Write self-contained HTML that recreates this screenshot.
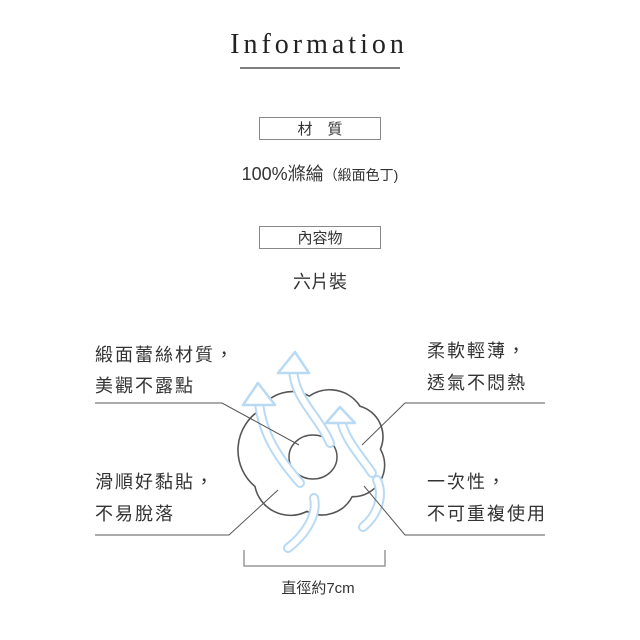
<!DOCTYPE html>
<html><head><meta charset="utf-8"><style>
body{margin:0;background:#fff}
svg{display:block}
.cj{font-family:"Liberation Sans","Noto Sans CJK TC",sans-serif;fill:#333}
</style></head><body>
<svg width="640" height="640" viewBox="0 0 640 640" xmlns="http://www.w3.org/2000/svg">
<rect width="640" height="640" fill="#fff"/>
<text x="319" y="53" text-anchor="middle" font-family="Liberation Serif,serif" font-size="28" letter-spacing="4" fill="#222">Information</text>
<line x1="240" y1="68" x2="400" y2="68" stroke="#333" stroke-width="1.2"/>
<rect x="259.5" y="117.5" width="121" height="22" fill="none" stroke="#888" stroke-width="1"/>
<text x="320" y="134" text-anchor="middle" class="cj" font-size="15" fill="#555">材　質</text>
<text x="320" y="180" text-anchor="middle" class="cj" font-size="18">100%滌綸<tspan font-size="14">（緞面色丁)</tspan></text>
<rect x="259.5" y="226.5" width="121" height="22" fill="none" stroke="#888" stroke-width="1"/>
<text x="320" y="243" text-anchor="middle" class="cj" font-size="15" fill="#555">內容物</text>
<text x="320" y="288" text-anchor="middle" class="cj" font-size="18">六片裝</text>

<g class="cj" font-size="18" letter-spacing="2">
<text x="95" y="361">緞面蕾絲材質，</text>
<text x="95" y="392">美觀不露點</text>
<text x="427" y="357">柔軟輕薄，</text>
<text x="427" y="389">透氣不悶熱</text>
<text x="95" y="488">滑順好黏貼，</text>
<text x="95" y="520">不易脫落</text>
<text x="427" y="488">一次性，</text>
<text x="427" y="520">不可重複使用</text>
</g>

<!-- flower -->
<path transform="translate(316,456) scale(1.13) translate(-316,-456)" d="M267 415 A32 32 0 0 1 310 403 A32 32 0 0 1 355 412 A28 28 0 0 1 373 450 A28 28 0 0 1 348 492 A30 30 0 0 1 308 505 A32 32 0 0 1 262 483 A42 42 0 0 1 267 415 Z" fill="none" stroke="#555" stroke-width="1.4"/>
<ellipse cx="313" cy="457" rx="24" ry="22" fill="none" stroke="#555" stroke-width="1.5"/>

<!-- arrows -->
<g fill="none" stroke-linecap="round">
<g stroke="#b9daf4" stroke-width="10">
<path d="M300 483 C280 460 262 435 259 402"/>
<path d="M330 443 C318 415 295 400 293 370"/>
<path d="M372 473 C360 455 345 440 341 420"/>
<path d="M288 548 C305 535 318 515 314 498"/>
<path d="M363 527 C378 515 384 495 377 480"/>
</g>
<g stroke="#fff" stroke-width="6">
<path d="M300 483 C280 460 262 435 259 402"/>
<path d="M330 443 C318 415 295 400 293 370"/>
<path d="M372 473 C360 455 345 440 341 420"/>
<path d="M288 548 C305 535 318 515 314 498"/>
<path d="M363 527 C378 515 384 495 377 480"/>
</g>
</g>
<g fill="#fff" stroke="#b9daf4" stroke-width="2.5" stroke-linejoin="round">
<polygon points="258,383 275,405 243,405"/>
<polygon points="295,352 309,373 278,373"/>
<polygon points="340,407 355,423 326,423"/>
</g>

<g stroke="#555" stroke-width="1" fill="none">
<polyline points="95,403 222,403 299,445"/>
<polyline points="545,403 405,403 362,445"/>
<polyline points="95,535 229,535 278,490"/>
<polyline points="545,535 405,535 364,486"/>
</g>
<polyline points="244,550 244,566 385,566 385,550" fill="none" stroke="#999" stroke-width="1.5"/>
<text x="318" y="593" text-anchor="middle" class="cj" font-size="15">直徑約7cm</text>
</svg>
</body></html>
